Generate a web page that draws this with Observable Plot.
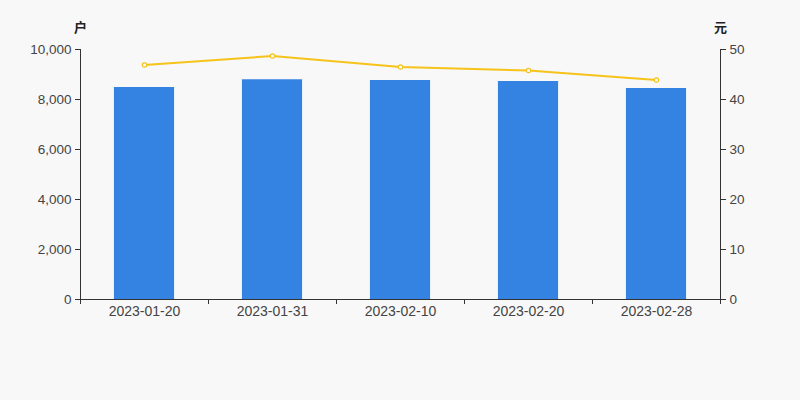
<!DOCTYPE html>
<html>
<head>
<meta charset="utf-8">
<script src="https://cdn.jsdelivr.net/npm/d3@7"></script>
<script src="https://cdn.jsdelivr.net/npm/@observablehq/plot@0.6"></script>
<style>
html,body{margin:0;padding:0;background:#f8f8f8;}
svg{display:block;}
</style>
</head>
<body>
<div id="chart"></div>
<script>
const dates = ["2023-01-20","2023-01-31","2023-02-10","2023-02-20","2023-02-28"];
const holders = [8480, 8790, 8760, 8720, 8440];
const avgValue = [46.9, 48.7, 46.5, 45.8, 43.9];
const leftTicks = [0, 2000, 4000, 6000, 8000, 10000];
const rightTicks = [0, 10, 20, 30, 40, 50];

const ratio = 10000 / 50;
const barW = 0.47;
const data = dates.map((d, i) => ({date: d, idx: i, holders: holders[i], price: avgValue[i]}));

const font = "Arial, 'Liberation Sans', 'Noto Sans CJK SC', sans-serif";
const textColor = "#444";
const axisColor = "#333";

const chart = Plot.plot({
  width: 800,
  height: 400,
  marginLeft: 80,
  marginRight: 80,
  marginTop: 49,
  marginBottom: 101,
  style: {background: "#f8f8f8", fontFamily: font, fontSize: "13px", color: textColor},
  x: {type: "linear", domain: [0, dates.length]},
  y: {domain: [0, 10000]},
  marks: [
    Plot.rectY(data, {
      x1: d => d.idx + 0.5 - barW / 2,
      x2: d => d.idx + 0.5 + barW / 2,
      y1: 0,
      y2: "holders",
      fill: "#3482e2"
    }),
    Plot.ruleY([0], {stroke: axisColor}),
    Plot.ruleX([0, dates.length], {stroke: axisColor}),
    Plot.line(data, {x: d => d.idx + 0.5, y: d => d.price * ratio, stroke: "#f7c31a", strokeWidth: 2}),
    Plot.dot(data, {x: d => d.idx + 0.5, y: d => d.price * ratio, r: 2.2, fill: "#fff", stroke: "#f7c31a", strokeWidth: 1.2}),
    Plot.axisY({anchor: "left", ticks: leftTicks, tickSize: 5, tickPadding: 4, label: null,
      tickFormat: d => d3.format(",")(d), stroke: axisColor, fill: textColor, fontSize: 13.5}),
    Plot.axisY({anchor: "right", ticks: rightTicks.map(v => v * ratio), tickSize: 5, tickPadding: 4, label: null,
      tickFormat: d => String(d / ratio), stroke: axisColor, fill: textColor, fontSize: 13.5}),
    Plot.axisX({anchor: "bottom", ticks: d3.range(dates.length + 1), tickSize: 5, tickFormat: () => "", label: null, stroke: axisColor}),
    Plot.axisX({anchor: "bottom", ticks: dates.map((d, i) => i + 0.5), tickSize: 0, tickPadding: 7,
      tickFormat: (d) => dates[Math.round(d - 0.5)], label: null, fill: textColor, fontSize: 14}),
    Plot.text(["户"], {frameAnchor: "top-left", dy: -22, textAnchor: "middle", lineAnchor: "middle", fontSize: 13, fontWeight: "bold", fill: "#222"}),
    Plot.text(["元"], {frameAnchor: "top-right", dy: -22, textAnchor: "middle", lineAnchor: "middle", fontSize: 13, fontWeight: "bold", fill: "#222"})
  ]
});
document.getElementById("chart").appendChild(chart);
</script>
</body>
</html>
